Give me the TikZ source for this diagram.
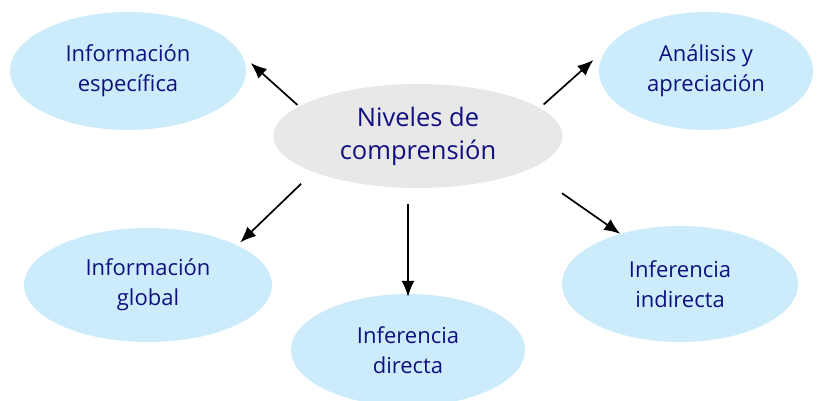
\documentclass[tikz,border=0pt]{standalone}
\usepackage{fontspec}
\setmainfont{Open Sans}
\usetikzlibrary{shapes.geometric,arrows.meta}
\definecolor{azulclaro}{RGB}{204,236,252}
\definecolor{grisclaro}{RGB}{232,232,232}
\definecolor{tinta}{RGB}{16,16,128}
\tikzset{
  nivel/.style={ellipse, fill=azulclaro, text=tinta, align=center, inner sep=0pt,
    font=\fontsize{22}{30}\selectfont},
  centro/.style={ellipse, fill=grisclaro, text=tinta, align=center, inner sep=0pt,
    minimum width=289pt, minimum height=104pt, font=\fontsize{25.5}{33}\selectfont},
  flecha/.style={line width=1.7pt, -{Latex[length=16pt,width=13pt]}}
}
\begin{document}
\begin{tikzpicture}[x=1pt,y=-1pt]
\useasboundingbox (0,0) rectangle (824,400);
% centro
\node[centro] (niv) at (418,136) {Niveles de\\comprensión};
% niveles
\node[nivel, minimum width=236pt, minimum height=118pt] (esp) at (128,71) {Información\\específica};
\node[nivel, minimum width=214pt, minimum height=118pt] (ana) at (706,71) {Análisis y\\apreciación};
\node[nivel, minimum width=248pt, minimum height=114pt] (glo) at (148,285) {Información\\global};
\node[nivel, minimum width=234pt, minimum height=112pt] (dir) at (408,350) {Inferencia\\directa};
\node[nivel, minimum width=236pt, minimum height=116pt] (ind) at (680,284) {Inferencia\\indirecta};
% flechas
\draw[flecha, shorten <=2pt, shorten >=12pt] (niv.166) -- (esp.8);
\draw[flecha, shorten <=5pt, shorten >=20pt] (niv.13) -- (ana.166);
\draw[flecha, shorten <=17pt, shorten >=4pt] (niv.199) -- (glo.24);
\draw[flecha, shorten <=16pt, shorten >=-3pt] (dir.north |- niv.south) -- (dir.north);
\draw[flecha, shorten <=41pt, shorten >=0pt] (niv.343) -- (ind.140);
\end{tikzpicture}
\end{document}
